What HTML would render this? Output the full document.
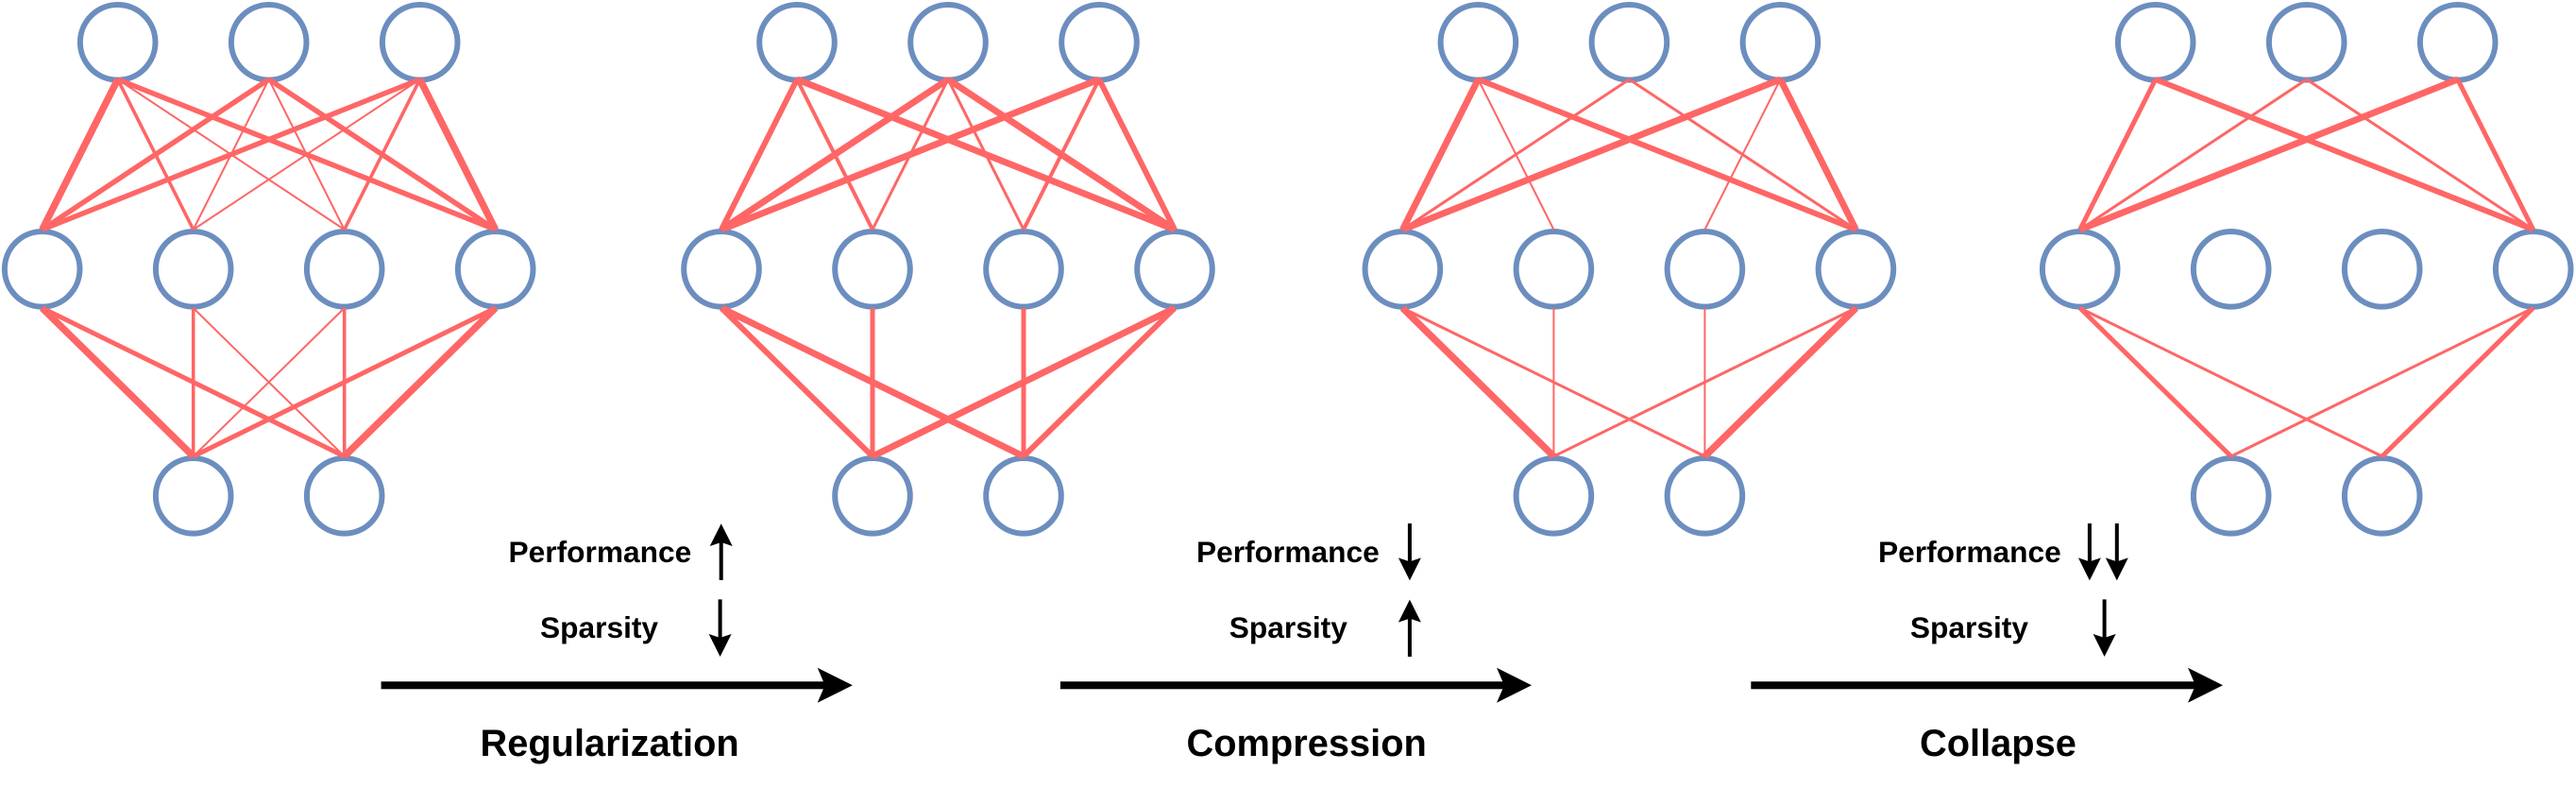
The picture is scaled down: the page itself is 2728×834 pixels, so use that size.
<!DOCTYPE html>
<html><head><meta charset="utf-8"><style>
html,body{margin:0;padding:0;background:#fff}
svg{display:block}
text{font-family:"Liberation Sans",Arial,sans-serif;font-weight:bold;fill:#000}
.n{fill:none;stroke:#6c8ebf;stroke-width:6}
.e line{stroke:#ff6666;fill:none}
</style></head><body>
<svg xmlns="http://www.w3.org/2000/svg" width="2728" height="834" viewBox="0 0 2728 834">
<defs>
<g id="nodes">
<circle class="n" cx="-160" cy="44.8" r="39.8"/><circle class="n" cx="0" cy="44.8" r="39.8"/><circle class="n" cx="160" cy="44.8" r="39.8"/>
<circle class="n" cx="-240" cy="284.8" r="39.8"/><circle class="n" cx="-80" cy="284.8" r="39.8"/><circle class="n" cx="80" cy="284.8" r="39.8"/><circle class="n" cx="240" cy="284.8" r="39.8"/>
<circle class="n" cx="-80" cy="524.8" r="39.8"/><circle class="n" cx="80" cy="524.8" r="39.8"/>
</g>
</defs>

<!-- Network 1 -->
<g transform="translate(284.7,0)">
<use href="#nodes"/>
<g class="e">
<line x1="-160" y1="84" x2="-240" y2="243" stroke-width="7.5"/>
<line x1="-160" y1="84" x2="-80" y2="243" stroke-width="3.6"/>
<line x1="-160" y1="84" x2="80" y2="243" stroke-width="2"/>
<line x1="-160" y1="84" x2="240" y2="243" stroke-width="5.5"/>
<line x1="0" y1="84" x2="-240" y2="243" stroke-width="5.5"/>
<line x1="0" y1="84" x2="-80" y2="243" stroke-width="2"/>
<line x1="0" y1="84" x2="80" y2="243" stroke-width="2"/>
<line x1="0" y1="84" x2="240" y2="243" stroke-width="5.5"/>
<line x1="160" y1="84" x2="-240" y2="243" stroke-width="5.5"/>
<line x1="160" y1="84" x2="-80" y2="243" stroke-width="2"/>
<line x1="160" y1="84" x2="80" y2="243" stroke-width="3.6"/>
<line x1="160" y1="84" x2="240" y2="243" stroke-width="7.5"/>
<line x1="-240" y1="326" x2="-80" y2="483" stroke-width="7.5"/>
<line x1="-240" y1="326" x2="80" y2="483" stroke-width="5"/>
<line x1="-80" y1="326" x2="-80" y2="483" stroke-width="3.6"/>
<line x1="-80" y1="326" x2="80" y2="483" stroke-width="2"/>
<line x1="80" y1="326" x2="-80" y2="483" stroke-width="2"/>
<line x1="80" y1="326" x2="80" y2="483" stroke-width="3.6"/>
<line x1="240" y1="326" x2="-80" y2="483" stroke-width="5"/>
<line x1="240" y1="326" x2="80" y2="483" stroke-width="7.5"/>
</g>
</g>

<!-- Network 2 -->
<g transform="translate(1004,0)">
<use href="#nodes"/>
<g class="e">
<line x1="-160" y1="84" x2="-240" y2="243" stroke-width="6"/>
<line x1="-160" y1="84" x2="-80" y2="243" stroke-width="4"/>
<line x1="-160" y1="84" x2="240" y2="243" stroke-width="7"/>
<line x1="0" y1="84" x2="-240" y2="243" stroke-width="7"/>
<line x1="0" y1="84" x2="-80" y2="243" stroke-width="3"/>
<line x1="0" y1="84" x2="80" y2="243" stroke-width="3"/>
<line x1="0" y1="84" x2="240" y2="243" stroke-width="7"/>
<line x1="160" y1="84" x2="-240" y2="243" stroke-width="7"/>
<line x1="160" y1="84" x2="80" y2="243" stroke-width="4"/>
<line x1="160" y1="84" x2="240" y2="243" stroke-width="6"/>
<line x1="-240" y1="326" x2="-80" y2="483" stroke-width="6"/>
<line x1="-240" y1="326" x2="80" y2="483" stroke-width="7"/>
<line x1="-80" y1="326" x2="-80" y2="483" stroke-width="5"/>
<line x1="80" y1="326" x2="80" y2="483" stroke-width="5"/>
<line x1="240" y1="326" x2="-80" y2="483" stroke-width="7"/>
<line x1="240" y1="326" x2="80" y2="483" stroke-width="6"/>
</g>
</g>

<!-- Network 3 -->
<g transform="translate(1725.4,0)">
<use href="#nodes"/>
<g class="e">
<line x1="-160" y1="84" x2="-240" y2="243" stroke-width="7"/>
<line x1="-160" y1="84" x2="-80" y2="243" stroke-width="2"/>
<line x1="-160" y1="84" x2="240" y2="243" stroke-width="6"/>
<line x1="0" y1="84" x2="-240" y2="243" stroke-width="3"/>
<line x1="0" y1="84" x2="240" y2="243" stroke-width="3"/>
<line x1="160" y1="84" x2="-240" y2="243" stroke-width="7"/>
<line x1="160" y1="84" x2="80" y2="243" stroke-width="2"/>
<line x1="160" y1="84" x2="240" y2="243" stroke-width="7"/>
<line x1="-240" y1="326" x2="-80" y2="483" stroke-width="7.5"/>
<line x1="-240" y1="326" x2="80" y2="483" stroke-width="3"/>
<line x1="-80" y1="326" x2="-80" y2="483" stroke-width="2"/>
<line x1="80" y1="326" x2="80" y2="483" stroke-width="2"/>
<line x1="240" y1="326" x2="-80" y2="483" stroke-width="3"/>
<line x1="240" y1="326" x2="80" y2="483" stroke-width="7.5"/>
</g>
</g>

<!-- Network 4 -->
<g transform="translate(2442.7,0)">
<use href="#nodes"/>
<g class="e">
<line x1="-160" y1="84" x2="-240" y2="243" stroke-width="5"/>
<line x1="-160" y1="84" x2="240" y2="243" stroke-width="6"/>
<line x1="0" y1="84" x2="-240" y2="243" stroke-width="3"/>
<line x1="0" y1="84" x2="240" y2="243" stroke-width="3"/>
<line x1="160" y1="84" x2="-240" y2="243" stroke-width="7"/>
<line x1="160" y1="84" x2="240" y2="243" stroke-width="5"/>
<line x1="-240" y1="326" x2="-80" y2="483" stroke-width="5"/>
<line x1="-240" y1="326" x2="80" y2="483" stroke-width="3"/>
<line x1="240" y1="326" x2="-80" y2="483" stroke-width="3"/>
<line x1="240" y1="326" x2="80" y2="483" stroke-width="5"/>
</g>
</g>

<!-- Labels and arrows: Regularization -->
<text x="538.5" y="594.8" font-size="31.7">Performance</text>
<text x="572" y="675.2" font-size="31.7">Sparsity</text>
<text x="508.5" y="799.8" font-size="39.8">Regularization</text>
<rect x="403.6" y="721.3" width="472" height="8"/>
<polygon points="865.7,706.8 902.9,725.3 865.7,743.8 873.6,725.3"/>
<rect x="761.7" y="572" width="4" height="42"/>
<polygon points="763.7,554.2 775.7,578 763.7,574 751.7,578"/>
<rect x="760.6" y="634.4" width="4" height="42"/>
<polygon points="762.6,695 750.6,671 762.6,675 774.6,671"/>

<!-- Compression -->
<text x="1267" y="594.8" font-size="31.7">Performance</text>
<text x="1301.8" y="675.2" font-size="31.7">Sparsity</text>
<text x="1256.5" y="799.8" font-size="39.8">Compression</text>
<rect x="1122.9" y="721.3" width="472" height="8"/>
<polygon points="1585,706.8 1622,725.3 1585,743.8 1593,725.3"/>
<rect x="1490.9" y="554" width="4" height="42"/>
<polygon points="1492.9,614.4 1480.9,590.4 1492.9,594.4 1504.9,590.4"/>
<rect x="1490.9" y="653" width="4" height="42"/>
<polygon points="1492.9,634.6 1504.9,658.6 1492.9,654.6 1480.9,658.6"/>

<!-- Collapse -->
<text x="1989" y="594.8" font-size="31.7">Performance</text>
<text x="2022.9" y="675.2" font-size="31.7">Sparsity</text>
<text x="2033" y="799.8" font-size="39.8">Collapse</text>
<rect x="1854.3" y="721.3" width="472" height="8"/>
<polygon points="2317,706.8 2354,725.3 2317,743.8 2325,725.3"/>
<rect x="2210.9" y="554" width="4" height="42"/>
<polygon points="2212.9,614.4 2200.9,590.4 2212.9,594.4 2224.9,590.4"/>
<rect x="2239.8" y="554" width="4" height="42"/>
<polygon points="2241.8,614.4 2229.8,590.4 2241.8,594.4 2253.8,590.4"/>
<rect x="2226.6" y="634.4" width="4" height="42"/>
<polygon points="2228.6,695 2216.6,671 2228.6,675 2240.6,671"/>
</svg>
</body></html>
